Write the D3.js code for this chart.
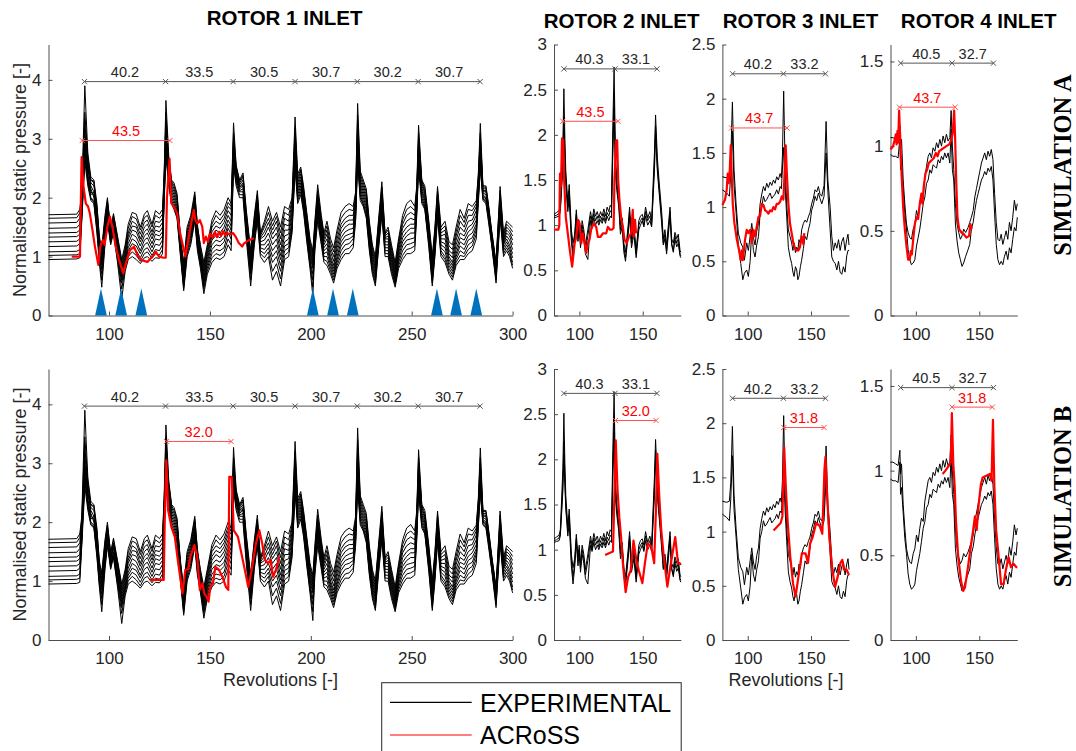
<!DOCTYPE html>
<html><head><meta charset="utf-8">
<script src="https://cdn.jsdelivr.net/npm/d3@7"></script>
<style>body{margin:0;background:#fff}</style>
</head><body>
<script>
// ---------------- DATA ----------------
// Rotor 1 experimental (shared revolutions grid, eleven sensors)
const r1Revs = [70,84,85.5,86.5,88,89.5,91,92.5,94,95.2, 96.4,98,99.2,100.8,102.2,104.2,106.3,108,109.5,111.5,
 113.5,115.5,117.5,119,121.3,123,125,126.5,127.3,128.2, 129.6,131,132.2,133.7,135.4,137,138.7,140.5,142.5,143.8,
 145.3,147,148.7,151,153,155,157,159,160.5,161.7, 163,164.7,166.4,168,170.2,172,173.5,175,177,179,
 181,183,185,187,189,190.7,192.2,193.5,195,196.4, 198,199.6,201,202,203.4,205.2,206.5,208,209.8,211.3,
 213,215,217,219,221,222.2,223.2,224.5,226,227.5, 229,230.5,232,233.5,235.2,236.8,238.3,240,241.8,243.5,
 245.5,247.5,249.5,251.5,252.5,253.4,255,256.5,258.5,260.2, 261.5,262.8,264.5,266.5,268.5,270.2,272,274,276,278,
 280,282,283,284,285.3,286.8,288,289.6,291.8,293.8, 295.5,297,298.5,300];
const r1Exp1 = [1.71,1.72,1.80,2.1,3.9,2.75,2.35,2.3,1.9,1.3, 1.15,1.7,2.0,1.45,1.73,1.35,0.95,1.2,1.55,1.75,
 1.72,1.5,1.72,1.78,1.55,1.78,1.72,1.8,2.4,3.65, 2.7,2.3,2.25,2.07,1.3,0.9,1.5,1.7,2.1,1.5,
 1.2,0.9,1.2,1.62,1.78,1.7,1.8,2.0,1.9,3.27, 2.55,2.3,2.42,1.8,1.1,1.7,2.12,1.4,1.6,1.85,
 1.6,1.75,1.5,1.85,1.8,2.0,3.37,2.4,2.52,2.2, 1.75,1.3,1.1,1.6,2.22,1.7,1.4,1.6,1.3,1.15,
 1.45,1.75,1.85,1.9,1.85,2.1,3.6,2.45,2.3,2.15, 1.6,1.2,1.0,1.6,2.27,1.4,1.5,1.2,0.9,1.3,
 1.7,1.9,1.96,1.85,2.2,3.23,2.3,2.2,1.6,1.0, 1.5,2.19,1.5,1.6,1.25,1.2,1.5,1.8,1.65,1.9,
 1.85,1.95,2.4,3.26,2.2,2.2,1.9,1.45,0.9,2.19, 1.4,1.6,1.55,1.5];
const r1Exp2 = [1.65,1.66,1.74,2.05,3.45,2.7,2.25,2.2,1.85,1.35, 1.1,1.65,1.95,1.5,1.7,1.32,0.9,1.15,1.48,1.68,
 1.64,1.45,1.66,1.7,1.5,1.7,1.65,1.72,2.35,3.45, 2.65,2.28,2.2,2.03,1.35,0.85,1.45,1.65,2.05,1.55,
 1.15,0.85,1.15,1.55,1.7,1.62,1.72,1.92,1.85,3.1, 2.52,2.28,2.38,1.75,1.05,1.65,2.05,1.38,1.55,1.75,
 1.52,1.68,1.4,1.75,1.7,1.95,3.2,2.35,2.48,2.15, 1.7,1.25,1.05,1.55,2.12,1.65,1.35,1.52,1.22,1.08,
 1.38,1.65,1.75,1.8,1.78,2.05,3.4,2.4,2.25,2.1, 1.55,1.15,0.95,1.55,2.18,1.38,1.45,1.15,0.85,1.25,
 1.62,1.8,1.85,1.78,2.15,3.1,2.28,2.15,1.55,0.95, 1.45,2.12,1.45,1.52,1.18,1.12,1.42,1.7,1.58,1.8,
 1.78,1.9,2.35,3.1,2.18,2.18,1.88,1.42,0.88,2.12, 1.35,1.55,1.5,1.42];
const r1Exp3 = [1.57,1.58,1.65,2.0,3.3,2.6,2.3,2.25,1.8,1.25, 1.05,1.6,1.9,1.4,1.65,1.3,0.85,1.1,1.4,1.6,
 1.55,1.38,1.58,1.62,1.42,1.6,1.58,1.65,2.3,3.3, 2.6,2.25,2.15,2.0,1.25,0.8,1.4,1.6,2.0,1.45,
 1.1,0.8,1.1,1.5,1.6,1.55,1.65,1.85,1.8,3.0, 2.5,2.25,2.35,1.7,1.0,1.6,2.0,1.35,1.5,1.65,
 1.45,1.6,1.3,1.65,1.6,1.9,3.1,2.3,2.45,2.1, 1.65,1.2,1.0,1.5,2.05,1.6,1.3,1.45,1.15,1.0,
 1.3,1.55,1.65,1.7,1.7,2.0,3.25,2.35,2.2,2.05, 1.5,1.1,0.9,1.5,2.1,1.35,1.4,1.1,0.8,1.2,
 1.55,1.7,1.75,1.7,2.1,3.0,2.25,2.1,1.5,0.9, 1.4,2.05,1.4,1.45,1.1,1.05,1.35,1.6,1.5,1.7,
 1.7,1.85,2.3,3.0,2.15,2.15,1.85,1.4,0.85,2.05, 1.3,1.5,1.45,1.35];
const r1Exp4 = [1.48,1.49,1.55,1.95,2.95,2.45,2.3,2.28,1.75,1.15, 1.0,1.55,1.8,1.32,1.62,1.25,0.8,1.05,1.35,1.52,
 1.5,1.3,1.5,1.55,1.36,1.52,1.5,1.58,2.25,3.2, 2.55,2.2,2.1,1.95,1.22,0.75,1.35,1.55,1.95,1.38,
 1.05,0.75,1.05,1.42,1.52,1.48,1.58,1.78,1.7,2.92, 2.45,2.22,2.3,1.65,0.95,1.55,1.95,1.32,1.42,1.58,
 1.38,1.5,1.2,1.55,1.52,1.82,3.0,2.25,2.4,2.05, 1.6,1.15,0.95,1.45,2.0,1.55,1.25,1.38,1.08,0.92,
 1.22,1.48,1.58,1.62,1.62,1.95,3.1,2.3,2.15,2.0, 1.45,1.05,0.85,1.45,2.05,1.32,1.35,1.05,0.75,1.15,
 1.48,1.6,1.65,1.62,2.05,2.92,2.2,2.08,1.48,0.85, 1.35,2.0,1.35,1.38,1.05,0.98,1.28,1.5,1.42,1.6,
 1.62,1.78,2.25,2.92,2.12,2.12,1.82,1.38,0.82,2.0, 1.28,1.45,1.4,1.28];
const r1Exp5 = [1.40,1.41,1.45,1.9,3.0,2.5,2.2,2.1,1.7,1.2, 0.95,1.5,1.85,1.35,1.6,1.2,0.75,1.0,1.3,1.45,
 1.42,1.25,1.42,1.47,1.3,1.45,1.42,1.5,2.2,3.1, 2.5,2.15,2.05,1.9,1.2,0.7,1.3,1.5,1.9,1.4,
 1.0,0.7,1.0,1.35,1.45,1.4,1.5,1.7,1.6,2.85, 2.4,2.2,2.25,1.6,0.9,1.5,1.9,1.3,1.35,1.5,
 1.3,1.4,1.1,1.45,1.45,1.75,2.9,2.2,2.35,2.0, 1.55,1.1,0.9,1.4,1.95,1.5,1.2,1.3,1.0,0.85,
 1.15,1.4,1.5,1.55,1.55,1.9,3.0,2.25,2.1,1.95, 1.4,1.0,0.8,1.4,2.0,1.3,1.3,1.0,0.7,1.1,
 1.4,1.5,1.55,1.55,2.0,2.85,2.15,2.05,1.45,0.8, 1.3,1.95,1.3,1.3,1.0,0.9,1.2,1.4,1.35,1.5,
 1.55,1.7,2.2,2.85,2.1,2.1,1.8,1.35,0.8,1.95, 1.25,1.4,1.35,1.2];
const r1Exp6 = [1.33,1.34,1.38,1.85,3.15,2.55,2.15,2.0,1.65,1.25, 0.9,1.45,1.9,1.42,1.55,1.15,0.7,0.95,1.22,1.38,
 1.33,1.18,1.35,1.4,1.22,1.38,1.35,1.42,2.15,3.0, 2.45,2.1,2.0,1.85,1.28,0.65,1.25,1.45,1.85,1.35,
 0.98,0.65,0.95,1.28,1.36,1.32,1.42,1.62,1.52,2.8, 2.38,2.18,2.22,1.55,0.85,1.45,1.85,1.25,1.28,1.4,
 1.2,1.3,1.02,1.35,1.38,1.68,2.82,2.15,2.3,1.95, 1.5,1.05,0.85,1.35,1.9,1.45,1.15,1.22,0.95,0.8,
 1.08,1.32,1.42,1.46,1.48,1.85,2.92,2.2,2.05,1.9, 1.35,0.95,0.75,1.35,1.95,1.25,1.25,0.95,0.66,1.05,
 1.32,1.42,1.48,1.48,1.95,2.78,2.12,2.0,1.4,0.75, 1.25,1.9,1.25,1.22,0.95,0.85,1.12,1.32,1.28,1.42,
 1.48,1.62,2.15,2.78,2.08,2.05,1.78,1.32,0.75,1.9, 1.22,1.35,1.28,1.12];
const r1Exp7 = [1.25,1.26,1.30,1.8,2.8,2.4,2.1,2.05,1.6,1.1, 0.85,1.4,1.75,1.3,1.5,1.1,0.65,0.9,1.15,1.3,
 1.25,1.1,1.28,1.32,1.15,1.3,1.28,1.35,2.1,2.9, 2.4,2.05,1.95,1.8,1.15,0.6,1.2,1.4,1.8,1.3,
 0.95,0.6,0.9,1.2,1.28,1.25,1.32,1.55,1.45,2.75, 2.35,2.15,2.2,1.5,0.8,1.4,1.8,1.2,1.2,1.3,
 1.1,1.2,0.95,1.25,1.3,1.6,2.75,2.1,2.25,1.9, 1.45,1.0,0.8,1.3,1.85,1.4,1.1,1.15,0.9,0.75,
 1.0,1.25,1.35,1.38,1.4,1.8,2.85,2.15,2.0,1.85, 1.3,0.9,0.7,1.3,1.9,1.2,1.2,0.9,0.62,1.0,
 1.25,1.35,1.4,1.4,1.9,2.7,2.1,1.95,1.35,0.7, 1.2,1.85,1.2,1.15,0.9,0.8,1.05,1.25,1.2,1.35,
 1.4,1.55,2.1,2.7,2.05,2.0,1.75,1.3,0.7,1.85, 1.2,1.3,1.2,1.05];
const r1Exp8 = [1.17,1.18,1.22,1.75,2.7,2.35,2.05,2.1,1.55,1.05, 0.78,1.35,1.7,1.22,1.48,1.05,0.6,0.88,1.1,1.22,
 1.18,1.05,1.2,1.24,1.08,1.21,1.19,1.28,2.05,2.85, 2.35,2.0,1.9,1.75,1.12,0.55,1.15,1.35,1.75,1.25,
 0.92,0.55,0.85,1.12,1.2,1.18,1.25,1.48,1.38,2.7, 2.32,2.12,2.15,1.48,0.75,1.35,1.75,1.15,1.12,1.22,
 1.0,1.1,0.85,1.18,1.22,1.55,2.68,2.05,2.2,1.88, 1.4,0.95,0.7,1.25,1.8,1.35,1.05,1.08,0.85,0.7,
 0.95,1.18,1.28,1.3,1.35,1.75,2.78,2.1,1.95,1.8, 1.25,0.85,0.65,1.25,1.85,1.15,1.15,0.85,0.58,0.95,
 1.18,1.28,1.3,1.32,1.85,2.65,2.05,1.9,1.3,0.65, 1.15,1.8,1.15,1.08,0.85,0.75,1.0,1.18,1.12,1.28,
 1.32,1.5,2.05,2.65,2.02,1.98,1.72,1.28,0.68,1.8, 1.15,1.25,1.15,0.98];
const r1Exp9 = [1.08,1.09,1.12,1.7,2.7,2.3,2.0,1.95,1.5,1.0, 0.7,1.3,1.65,1.25,1.45,1.0,0.55,0.85,1.05,1.15,
 1.1,0.98,1.12,1.15,1.02,1.12,1.1,1.2,2.0,2.8, 2.3,1.95,1.85,1.7,1.1,0.5,1.1,1.3,1.7,1.2,
 0.9,0.5,0.8,1.05,1.12,1.1,1.15,1.4,1.3,2.65, 2.3,2.1,2.1,1.45,0.7,1.3,1.7,1.1,1.05,1.15,
 0.9,1.0,0.75,1.1,1.15,1.5,2.6,2.0,2.15,1.85, 1.35,0.9,0.6,1.2,1.75,1.3,1.0,1.0,0.8,0.65,
 0.9,1.1,1.2,1.22,1.3,1.7,2.7,2.05,1.9,1.75, 1.2,0.8,0.6,1.2,1.8,1.1,1.1,0.8,0.55,0.9,
 1.1,1.2,1.22,1.25,1.8,2.6,2.0,1.85,1.25,0.6, 1.1,1.75,1.1,1.0,0.8,0.7,0.95,1.1,1.05,1.2,
 1.25,1.45,2.0,2.6,2.0,1.95,1.7,1.25,0.65,1.75, 1.1,1.2,1.1,0.9];
const r1Exp10 = [1.02,1.03,1.05,1.65,2.85,2.25,1.98,1.92,1.45,0.95, 0.6,1.25,1.62,1.28,1.42,0.95,0.45,0.8,1.0,1.08,
 1.02,0.92,1.05,1.08,0.97,1.05,1.03,1.12,1.95,2.75, 2.25,1.92,1.82,1.68,1.05,0.46,1.05,1.25,1.65,1.15,
 0.85,0.45,0.75,0.98,1.05,1.02,1.08,1.3,1.2,2.6, 2.25,2.05,2.05,1.38,0.6,1.25,1.65,1.05,0.98,1.08,
 0.75,0.88,0.62,1.02,1.08,1.45,2.55,1.95,2.1,1.8, 1.3,0.85,0.48,1.15,1.68,1.25,0.95,0.92,0.75,0.6,
 0.85,1.02,1.12,1.14,1.22,1.65,2.65,2.0,1.88,1.7, 1.15,0.75,0.55,1.15,1.75,1.05,1.05,0.75,0.52,0.85,
 1.02,1.12,1.14,1.18,1.75,2.55,1.95,1.82,1.2,0.55, 1.05,1.7,1.05,0.95,0.75,0.65,0.9,1.02,1.0,1.12,
 1.18,1.38,1.95,2.55,1.98,1.92,1.65,1.22,0.6,1.7, 1.05,1.15,1.05,0.85];
const r1Exp11 = [0.95,0.96,0.98,1.6,2.6,2.2,1.95,1.9,1.4,0.9, 0.48,1.2,1.6,1.2,1.4,0.9,0.28,0.75,0.95,1.0,
 0.95,0.88,0.98,1.0,0.92,0.98,0.97,1.05,1.9,2.7, 2.2,1.9,1.8,1.65,1.0,0.42,1.0,1.2,1.6,1.1,
 0.8,0.37,0.7,0.9,0.98,0.95,1.0,1.2,1.1,2.55, 2.2,2.0,2.0,1.3,0.5,1.2,1.6,1.0,0.9,1.0,
 0.6,0.75,0.5,0.95,1.0,1.4,2.5,1.9,2.05,1.75, 1.25,0.8,0.33,1.1,1.6,1.2,0.9,0.85,0.7,0.55,
 0.8,0.95,1.05,1.05,1.15,1.6,2.6,1.95,1.85,1.65, 1.1,0.7,0.5,1.1,1.7,1.0,1.0,0.7,0.48,0.8,
 0.95,1.05,1.05,1.1,1.7,2.5,1.9,1.8,1.15,0.5, 1.0,1.65,1.0,0.9,0.7,0.6,0.85,0.95,0.95,1.05,
 1.1,1.3,1.9,2.5,1.95,1.9,1.6,1.2,0.55,1.65, 1.0,1.1,1.0,0.8];

// Rotor 2 experimental (three sensors)
const r2Revs = [80,82,84,85,86,87,87.8,88.6,89.3,90.9, 92,93.7,95,96.3,97.6,98.9,99.9,100.9,102.2,103.5,
 104.8,106.7,108.8,110,111.4,112.8,114.1,115.4,116.7,118, 119.3,120.6,121.9,123.2,124.3,125.3,126.4,127.4,128.5,129.8,
 131.1,132.4,133.8,135.1,136.4,138.5,139.6,141.1,143,144.8, 146.9,148.2,149.6,150.9,152.2,153.9,155.6,157,158.3,159.2,
 160.1,161.5,162.8,164.9,166.2,167.5,168.8,170.2,171.5,172.8, 174.1,175.4,176.8,178,179.4,180];
const r2Exp1 = [1.12,1.14,1.16,1.22,1.55,1.9,2.51,1.95,1.6,1.25, 1.45,0.95,0.8,0.9,1.17,0.92,1.05,0.85,1.05,0.95,
 0.78,0.95,1.15,1.05,1.18,1.1,1.15,1.08,1.15,1.1, 1.18,1.1,1.2,1.15,1.22,1.2,2.1,2.75,1.75,1.45,
 1.3,1.0,1.08,0.8,0.7,1.0,1.2,0.85,1.0,0.72, 1.05,1.1,1.12,1.05,1.2,1.08,1.15,1.05,1.5,1.8,
 2.22,1.75,1.5,1.15,0.85,0.95,0.78,1.0,1.2,0.85, 0.8,0.92,0.85,0.9,0.72,0.7];
const r2Exp2 = [1.1,1.11,1.13,1.18,1.45,1.75,2.2,1.8,1.5,1.2, 1.38,0.88,0.7,0.85,1.12,0.88,1.0,0.8,1.0,0.9,
 0.72,0.88,1.1,1.0,1.13,1.05,1.1,1.03,1.1,1.05, 1.13,1.05,1.14,1.1,1.16,1.14,1.9,2.45,1.65,1.4,
 1.25,0.95,1.02,0.75,0.64,0.95,1.15,0.8,0.95,0.68, 1.0,1.05,1.08,1.0,1.15,1.05,1.1,1.0,1.4,1.7,
 2.1,1.65,1.42,1.08,0.8,0.9,0.72,0.95,1.15,0.8, 0.72,0.88,0.8,0.85,0.68,0.66];
const r2Exp3 = [1.08,1.09,1.1,1.15,1.4,1.65,2.05,1.7,1.45,1.15, 1.3,0.82,0.62,0.8,1.08,0.82,0.95,0.75,0.95,0.85,
 0.68,0.62,1.05,0.98,1.08,1.0,1.05,1.0,1.06,1.02, 1.08,1.02,1.1,1.05,1.1,1.08,1.8,2.3,1.55,1.35,
 1.2,0.9,0.98,0.7,0.6,0.9,1.1,0.75,0.9,0.64, 0.95,1.0,1.05,0.98,1.1,1.0,1.05,0.98,1.35,1.6,
 2.0,1.6,1.38,1.02,0.78,0.85,0.68,0.9,1.1,0.78, 0.7,0.84,0.76,0.8,0.66,0.64];

// Rotor 3 experimental (two sensors)
const r3Revs = [80,83.4,85.5,86.6,87.9,89.2,90.8,92.6,94.5,96.1, 97.4,99.2,100.5,101.9,103.2,104.5,105.8,107.1,108.5,109.8,
 111.1,112.4,113.7,115,116.3,117.7,119,120.3,121.6,122.9, 124.2,125.6,126.6,127.4,128.4,129.5,130.8,132.1,133.4,134.7,
 135.7,136.6,137.7,138.7,139.6,140.5,141.6,142.6,144,145.3, 146.6,147.9,149.2,150.5,151.8,153.2,154.5,155.8,157.1,158.5,
 160.3,161.9,163.3,165.1,166.4,167.7,169.1,170.4,171.7,173, 174.3,175.6,176.9,178.2,179.2,180];
const r3Exp1 = [1.28,1.27,1.28,1.45,1.97,1.34,1.03,0.76,0.67,0.63, 0.51,0.67,0.6,0.73,0.85,0.72,0.65,0.78,0.85,1.03,
 1.12,1.19,1.15,1.22,1.18,1.23,1.2,1.25,1.22,1.28, 1.25,1.31,1.27,1.47,2.07,1.4,1.03,0.79,0.73,0.67,
 0.6,0.67,0.58,0.63,0.6,0.7,0.66,0.79,0.85,0.88, 0.86,0.91,0.95,1.03,1.08,1.16,1.14,1.19,1.12,1.1,
 1.2,1.79,1.25,1.0,0.73,0.6,0.67,0.62,0.7,0.6, 0.68,0.72,0.6,0.7,0.75,0.65];
const r3Exp2 = [1.16,1.13,1.1,1.3,1.7,1.2,0.95,0.65,0.48,0.33, 0.39,0.42,0.36,0.5,0.79,0.6,0.54,0.65,0.73,0.94,
 1.0,1.1,1.05,1.07,1.1,1.13,1.08,1.1,1.12,1.16, 1.12,1.19,1.17,1.35,1.55,1.2,0.91,0.63,0.54,0.48,
 0.4,0.36,0.45,0.42,0.33,0.36,0.45,0.51,0.62,0.73, 0.7,0.79,0.85,0.97,1.02,1.1,1.06,1.13,1.08,1.03,
 1.1,1.5,1.15,0.79,0.54,0.5,0.48,0.42,0.5,0.4, 0.38,0.45,0.4,0.55,0.6,0.6];

// Rotor 4 experimental (two sensors)
const r4Revs = [80,82,84,86,87.4,87.9,88.7,90,91.3,92.6, 93.9,95.2,96.5,97.9,99.2,100.5,101.8,103.1,104.4,105.8,
 107.1,108.4,109.7,111,112.3,113.6,115,116.3,117.6,118.9, 120.2,121.5,122.8,124.1,125.4,126.8,127.8,128.8,129.9,131.2,
 132.5,133.8,135.1,136.4,137.7,139.3,141.2,142.5,143.8,145.2, 146.5,147.8,149.1,150.4,151.7,153,154.3,155.6,156.9,158.2,
 159.5,160.8,162.1,163.4,164.7,166,167.3,168.6,169.9,171.2, 172.5,173.8,175.1,176.4,177.7,179,180];
const r4Exp1 = [1.05,1.05,1.04,1.03,1.12,0.98,1.04,0.8,0.66,0.54, 0.49,0.46,0.45,0.51,0.54,0.62,0.58,0.66,0.72,0.7,
 0.82,0.88,0.94,0.96,0.93,0.99,0.97,1.02,0.99,1.04, 1.0,1.06,1.02,1.07,1.03,1.05,1.21,1.0,0.86,0.66,
 0.54,0.49,0.45,0.47,0.51,0.49,0.52,0.55,0.58,0.62, 0.7,0.75,0.8,0.85,0.9,0.93,0.96,0.92,0.97,0.94,
 0.98,0.92,0.72,0.55,0.45,0.44,0.48,0.42,0.46,0.5, 0.45,0.55,0.5,0.58,0.68,0.62,0.66];
const r4Exp2 = [0.95,0.94,0.94,0.93,1.05,0.86,0.9,0.75,0.6,0.51, 0.39,0.33,0.3,0.31,0.33,0.41,0.46,0.51,0.58,0.66,
 0.7,0.78,0.8,0.86,0.84,0.89,0.88,0.87,0.92,0.9, 0.94,0.92,0.96,0.93,0.96,0.9,1.1,0.86,0.8,0.54,
 0.44,0.37,0.33,0.29,0.31,0.35,0.39,0.42,0.51,0.55, 0.62,0.68,0.72,0.76,0.8,0.82,0.85,0.83,0.87,0.85,
 0.88,0.8,0.6,0.42,0.33,0.3,0.32,0.3,0.35,0.38, 0.33,0.4,0.37,0.45,0.52,0.5,0.58];

// ACRoSS simulations
const r1SimARevs = [81.5,84.8,85.6,86.4,87.3,88.5,89.6,90.5,91.8,93, 94.7,95.6,96.1,96.9,97.8,99.2,100.4,101.7,103.3,105,
 107,108.8,110.4,112.4,114.1,116.2,119,121.5,123.2,124.8, 127,128.1,128.7,130,130.8,132,133.7,135.3,137.8,139.5,
 142,142.8,143.7,145,146.2,147,148,149,150,151.5, 152.5,153.5,154.5,155.5,156.5,157.5,158.5,160,161.5,162.7,
 164.3,166,166.8,168,169.3,171.8];
const r1SimA = [1.0,1.0,1.0,2.69,2.2,1.9,1.85,1.73,1.45,1.17, 0.86,1.15,1.22,1.28,1.2,1.51,1.68,1.5,1.17,0.94,
 0.72,0.94,1.11,1.17,1.02,0.94,0.91,1.0,1.08,1.0, 0.98,0.98,2.0,2.66,1.91,1.85,1.74,1.39,1.0,1.34,
 1.79,1.62,1.56,1.62,1.51,1.23,1.34,1.25,1.39,1.32, 1.42,1.33,1.42,1.35,1.43,1.36,1.4,1.38,1.4,1.34,
 1.23,1.17,1.22,1.25,1.28,1.31];
const r1SimBRevs = [120.2,127.1,127.6,128.4,129.3,130.9,132.6,134.3,136.4,137.8, 139.2,140.3,142.3,143.7,145,146.3,147.2,148.4,149.3,150.2,
 151.5,152.7,154.5,156.2,157.9,159.1,159.6,160.8,161.8,163.9, 165.6,167.3,169,170.7,172.8,174.5,175.9,177.2,178.9,180.1,
 181.3,182.7,184.4];
const r1SimB = [1.02,1.02,2.0,3.05,2.2,1.92,1.75,1.3,0.79,1.19, 1.2,1.41,1.61,1.41,0.85,0.96,0.79,0.73,0.65,0.9,
 0.96,1.24,1.19,1.07,0.9,0.85,2.77,2.77,1.86,1.75, 1.47,1.19,0.9,1.19,1.64,1.86,1.64,1.36,1.3,1.36,
 1.07,1.19,1.41];
const r2SimARevs = [80,83.4,84.2,84.7,85.5,86.3,87.3,88,89.3,91.2, 92.5,94.3,96.3,97.6,98.9,100.2,101.5,102.8,104.1,105.4,
 106.7,108,109.3,111.2,113.3,114.6,116.7,118.5,121.2,122.5, 124.3,125.9,127,127.7,129,129.8,130.6,131.6,132.9,134.3,
 135.6,137.4,139,140.8,142.1,142.9,143.9,144.7];
const r2SimA = [0.95,0.95,1.0,1.57,1.43,1.96,1.94,1.5,1.09,0.87, 0.72,0.54,0.8,0.87,1.06,1.02,0.8,0.91,0.8,0.69,
 0.8,0.84,0.95,1.02,0.98,0.87,0.87,0.91,0.91,0.98, 0.95,0.95,0.97,1.5,1.94,1.94,1.5,1.28,1.09,0.98,
 0.84,0.8,0.87,0.91,1.17,0.87,1.06,0.91];
const r2SimBRevs = [120.3,126.5,127.3,128.7,130.1,131.5,132.9,134.3,136.5,138.5, 140.5,142.7,145,146.9,149.7,151.7,154,156.8,159,160.4,
 161.5,162.9,164.6,166.6,169.4,172.2,175.6,177.8,179.2,180];
const r2SimB = [0.94,0.98,1.4,2.21,1.66,1.36,1.14,0.85,0.53,0.7, 0.77,1.1,0.88,0.77,0.63,0.85,1.07,1.03,0.85,1.44,
 2.06,1.62,1.21,0.92,0.59,0.85,1.14,0.85,0.85,0.83];
const r3SimARevs = [80,82.1,83.4,84.2,85,85.8,86.6,87.4,88.2,89.5, 91.4,93.2,94.5,95.3,96.1,97.9,99.2,100.5,101.9,103.2,
 104.5,105.8,107.1,108.5,109.8,111.1,112.4,113.7,115,116.3, 117.7,119,120.3,121.6,122.9,124.2,125.6,126.9,128.2,129,
 130,130.8,132.1,133.4,134.7,136,137.4,138.7,140,141.3, 142.6,143.9,144.7];
const r3SimA = [1.02,1.07,1.16,1.31,1.22,1.34,1.57,1.28,1.03,0.85, 0.7,0.6,0.51,0.6,0.51,0.7,0.79,0.76,0.79,0.67,
 0.79,0.73,0.82,0.91,0.92,1.03,1.02,0.97,0.96,0.94, 0.97,0.96,1.0,0.98,1.03,1.03,1.05,1.1,1.07,1.28,
 1.57,1.34,1.03,0.85,0.76,0.67,0.62,0.6,0.6,0.63, 0.73,0.66,0.76];
const r3SimBRevs = [120.4,126,127.4,128.8,130.2,131.6,133.6,135.8,137.8,140, 142.8,145.6,147.6,149.3,151.3,154.1,156.9,158.9,160.6,161.4,
 162.8,164.5,166.8,169,171,173.2,174.7,176,178,180];
const r3SimB = [1.01,1.08,1.14,1.78,1.38,1.08,0.77,0.52,0.4,0.58, 0.8,0.8,0.71,0.89,0.95,1.08,1.05,0.98,1.57,1.69,
 1.32,0.95,0.65,0.49,0.58,0.71,0.74,0.65,0.65,0.6];
const r4SimARevs = [80,82.1,83.4,84.2,84.8,85.5,86,86.8,87.6,88.7, 90,91.3,92.6,93.9,95.2,96,96.8,97.9,99.2,100.5,
 101.8,103.1,104.4,105.2,106.2,107.6,108.9,110.2,111.5,112.9, 114.2,115.8,117.1,118.4,120.2,122.1,124.1,126.3,128.1,129.1,
 130.2,131,131.8,132.8,134.1,136,137.8,139.9,142,143, 144.1];
const r4SimA = [0.98,1.0,1.04,1.07,1.01,1.09,1.02,1.21,1.06,0.84, 0.64,0.51,0.41,0.33,0.33,0.38,0.36,0.45,0.54,0.58,
 0.57,0.66,0.72,0.66,0.76,0.84,0.86,0.9,0.91,0.92, 0.93,0.96,0.94,0.97,0.98,0.99,1.0,1.01,1.04,1.08,
 1.21,1.04,0.8,0.58,0.51,0.49,0.48,0.46,0.47,0.54, 0.51];
const r4SimBRevs = [121.1,123.3,126.1,127.5,128.4,129.5,130.6,131.7,133.4,135.6, 137.3,138.7,140.7,142.9,145.2,146.6,148,149.4,151.3,152.7,
 155.5,158.3,159.7,160.8,161.9,163.3,165.3,167.2,169.2,170.9, 173.1,175,177,179.3,180];
const r4SimB = [0.98,1.0,1.03,1.05,1.34,1.04,0.91,0.69,0.49,0.35, 0.29,0.31,0.41,0.53,0.65,0.73,0.65,0.79,0.92,0.96,
 0.97,0.98,0.94,1.3,0.91,0.65,0.49,0.33,0.33,0.41, 0.49,0.43,0.45,0.43,0.43];

// Period annotations (experimental, black) and simulated (red)
const r1PeakRevs = [87.8,128,161.5,192.2,223,253.2,283.9];
const r1PeriodLabels = ["40.2","33.5","30.5","30.7","30.2","30.7"];
const r2PeakRevs = [87.8,128.1,161.2];
const r2PeriodLabels = ["40.3","33.1"];
const r3PeakRevs = [88,128.2,161.4];
const r3PeriodLabels = ["40.2","33.2"];
const r4PeakRevs = [88,128.5,161.2];
const r4PeriodLabels = ["40.5","32.7"];
const simAPeakRevs = [[86.7,130.2],[86.9,130.5],[87.2,131],[87.1,131]];
const simAPeriodLabels = ["43.5","43.5","43.7","43.7"];
const simBPeakRevs = [[128.4,160.5],[128.5,160.5],[128.5,160.3],[128.5,160.3]];
const simBPeriodLabels = ["32.0","32.0","31.8","31.8"];
const expBracketLevels = [3.97,2.73,2.23,1.49];
const simABracketLevels = [2.97,2.15,1.73,1.23];
const simBBracketLevels = [3.37,2.43,1.96,1.375];
// Blue markers on rotor 1 (simulation A)
const markerRevs = [96,106,116,201,211,220.8,262.5,272,282];

const titles = ["ROTOR 1 INLET","ROTOR 2 INLET","ROTOR 3 INLET","ROTOR 4 INLET"];
const rowLabels = ["SIMULATION A","SIMULATION B"];
const legendLabels = ["EXPERIMENTAL","ACRoSS"];

// ---------------- LAYOUT ----------------
const W = 1076, H = 751;
const FONT = "'Liberation Sans', Arial, Helvetica, sans-serif";
const svg = d3.select("body").append("svg").attr("width", W).attr("height", H)
  .style("font-family", FONT);

const rows = [{top:44.5, bot:315.5}, {top:369, bot:640}];
const cols = [
  {x0:48.5, x1:512.6, dom:[70,300], yMax:4.6, yTicks:[0,1,2,3,4], xTicks:[100,150,200,250,300],
   revs:r1Revs, exp:[r1Exp1,r1Exp2,r1Exp3,r1Exp4,r1Exp5,r1Exp6,r1Exp7,r1Exp8,r1Exp9,r1Exp10,r1Exp11],
   peaks:r1PeakRevs, plabels:r1PeriodLabels,
   simA:[r1SimARevs,r1SimA], simB:[r1SimBRevs,r1SimB], titleX:284.6, titleY:25},
  {x0:554, x1:680.8, dom:[80,180], yMax:3, yTicks:[0,0.5,1,1.5,2,2.5,3], xTicks:[100,150],
   revs:r2Revs, exp:[r2Exp1,r2Exp2,r2Exp3], peaks:r2PeakRevs, plabels:r2PeriodLabels,
   simA:[r2SimARevs,r2SimA], simB:[r2SimBRevs,r2SimB], titleX:621.6, titleY:28},
  {x0:722.4, x1:849, dom:[80,180], yMax:2.5, yTicks:[0,0.5,1,1.5,2,2.5], xTicks:[100,150],
   revs:r3Revs, exp:[r3Exp1,r3Exp2], peaks:r3PeakRevs, plabels:r3PeriodLabels,
   simA:[r3SimARevs,r3SimA], simB:[r3SimBRevs,r3SimB], titleX:800.5, titleY:28},
  {x0:890.5, x1:1017.3, dom:[80,180], yMax:1.6, yTicks:[0,0.5,1,1.5], xTicks:[100,150],
   revs:r4Revs, exp:[r4Exp1,r4Exp2], peaks:r4PeakRevs, plabels:r4PeriodLabels,
   simA:[r4SimARevs,r4SimA], simB:[r4SimBRevs,r4SimB], titleX:978.7, titleY:28}
];

const AXIS = "#4d4d4d", TXT = "#262626", RED = "#ff0000";

function cross(g, cx, cy, color) {
  const s = 2.6;
  g.append("path").attr("d", `M${cx-s},${cy-s}L${cx+s},${cy+s}M${cx-s},${cy+s}L${cx+s},${cy-s}`)
    .attr("stroke", color).attr("stroke-width", 1).attr("fill", "none");
}
function bracket(g, x, y, revs, labels, level, color, lblColor) {
  const yy = y(level);
  g.append("line").attr("x1", x(revs[0])).attr("x2", x(revs[revs.length-1]))
    .attr("y1", yy).attr("y2", yy).attr("stroke", color).attr("stroke-width", 1);
  revs.forEach(r => cross(g, x(r), yy, color));
  labels.forEach((t, i) => {
    g.append("text").attr("x", (x(revs[i]) + x(revs[i+1])) / 2).attr("y", yy - 4.5)
      .attr("text-anchor", "middle").attr("font-size", 14.5).attr("fill", lblColor).text(t);
  });
}

rows.forEach((row, ri) => {
  cols.forEach((c, ci) => {
    const x = d3.scaleLinear().domain(c.dom).range([c.x0, c.x1]);
    const y = d3.scaleLinear().domain([0, c.yMax]).range([row.bot, row.top]);
    const g = svg.append("g");

    // axes
    const xa = g.append("g").attr("transform", `translate(0,${row.bot})`)
      .call(d3.axisBottom(x).tickValues(c.xTicks).tickFormat(d => String(d))
        .tickSizeInner(-4).tickSizeOuter(0).tickPadding(12));
    const ya = g.append("g").attr("transform", `translate(${c.x0},0)`)
      .call(d3.axisLeft(y).tickValues(c.yTicks).tickFormat(d => String(d))
        .tickSizeInner(-4).tickSizeOuter(0).tickPadding(7));
    [xa, ya].forEach(a => {
      a.select(".domain").attr("stroke", AXIS).attr("stroke-width", 1);
      a.selectAll(".tick line").attr("stroke", AXIS);
      a.selectAll(".tick text").attr("fill", TXT).attr("font-size", 17).attr("font-family", FONT);
    });

    // experimental lines
    const line = d3.line().x(d => x(d[0])).y(d => y(d[1]));
    c.exp.forEach(vals => {
      g.append("path").datum(c.revs.map((r, i) => [r, vals[i]]))
        .attr("d", line).attr("fill", "none").attr("stroke", "#000").attr("stroke-width", 1)
        .attr("stroke-linejoin", "round");
    });
    // simulation line
    const sim = ri === 0 ? c.simA : c.simB;
    g.append("path").datum(sim[0].map((r, i) => [r, sim[1][i]]))
      .attr("d", line).attr("fill", "none").attr("stroke", RED).attr("stroke-width", 2.2)
      .attr("stroke-linejoin", "round");

    // markers (rotor 1, simulation A)
    if (ci === 0 && ri === 0) {
      markerRevs.forEach(m => {
        g.append("path")
          .attr("d", `M${x(m-2.9)},${y(0)}L${x(m)},${y(0.46)}L${x(m+2.9)},${y(0)}Z`)
          .attr("fill", "#0072BD");
      });
    }

    // period brackets
    bracket(g, x, y, c.peaks, c.plabels, expBracketLevels[ci], "#555", TXT);
    if (ri === 0) bracket(g, x, y, simAPeakRevs[ci], [simAPeriodLabels[ci]], simABracketLevels[ci], "#ff5050", RED);
    else bracket(g, x, y, simBPeakRevs[ci], [simBPeriodLabels[ci]], simBBracketLevels[ci], "#ff5050", RED);

    // titles
    if (ri === 0) {
      svg.append("text").attr("x", c.titleX).attr("y", c.titleY).attr("text-anchor", "middle")
        .attr("font-size", 20.5).attr("font-weight", "bold").attr("fill", "#000").text(titles[ci]);
    }
  });

  // y label
  svg.append("text").attr("transform", `translate(26,${(row.top + row.bot) / 2}) rotate(-90)`)
    .attr("text-anchor", "middle").attr("font-size", 18).attr("fill", TXT)
    .text("Normalised static pressure [-]");
  // row label
  svg.append("text").attr("transform", `translate(1071,${ri === 0 ? 165 : 496.5}) rotate(-90)`)
    .attr("text-anchor", "middle").attr("font-size", 24.5).attr("font-weight", "bold")
    .attr("font-family", "'Liberation Serif', 'Times New Roman', serif").attr("fill", "#000")
    .text(rowLabels[ri]);
});

// x labels
[280.6, 786].forEach(cx => {
  svg.append("text").attr("x", cx).attr("y", 686).attr("text-anchor", "middle")
    .attr("font-size", 18).attr("fill", TXT).text("Revolutions [-]");
});

// legend
const lg = svg.append("g");
lg.append("rect").attr("x", 381.7).attr("y", 682.7).attr("width", 299.5).attr("height", 90)
  .attr("fill", "#fff").attr("stroke", "#262626").attr("stroke-width", 1);
[["#000", 702.3, legendLabels[0], 711.7], [RED, 735, legendLabels[1], 744]].forEach(([col, ly, t, ty]) => {
  lg.append("line").attr("x1", 390).attr("x2", 471.7).attr("y1", ly).attr("y2", ly)
    .attr("stroke", col).attr("stroke-width", 1.2);
  lg.append("text").attr("x", 480).attr("y", ty).attr("font-size", 25).attr("fill", "#000").text(t);
});
</script>
</body></html>
